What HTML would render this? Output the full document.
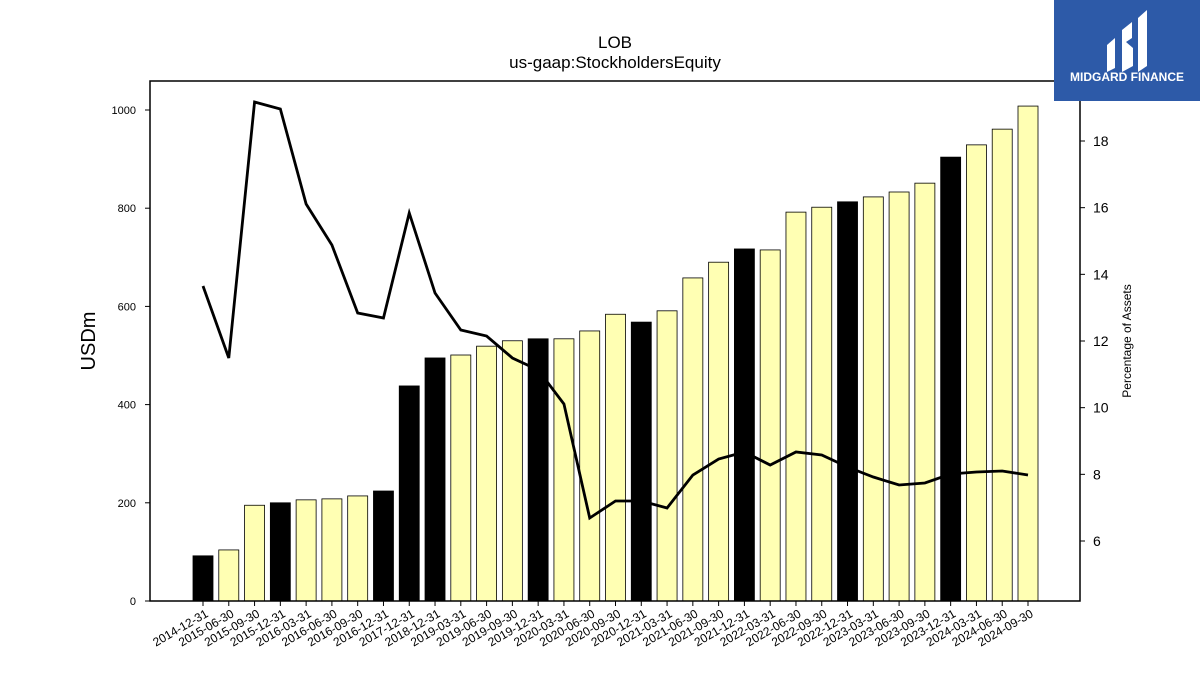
<!DOCTYPE html>
<html><head><meta charset="utf-8"><style>
body{margin:0;background:#fff;width:1200px;height:675px;overflow:hidden;font-family:"Liberation Sans",sans-serif}
</style></head><body>
<svg id="chart" width="1200" height="675" xmlns="http://www.w3.org/2000/svg" font-family="Liberation Sans, DejaVu Sans, sans-serif">
<text x="615" y="48" font-size="17" text-anchor="middle">LOB</text>
<text x="615" y="68" font-size="17" text-anchor="middle">us-gaap:StockholdersEquity</text>
<g id="bars"></g>
<g id="line"></g>
<rect x="150" y="81" width="930" height="520" fill="none" stroke="#000" stroke-width="1.5"/>
<g id="axes"></g>
<text transform="translate(95,341) rotate(-90)" font-size="20" text-anchor="middle">USDm</text>
<text transform="translate(1131,341) rotate(-90)" font-size="12" text-anchor="middle">Percentage of Assets</text>
<g>
<rect x="1054" y="0" width="146" height="101" fill="#2d5aa8"/>
<path d="M1107 45 L1115 38 L1115 68 L1107 72 Z" fill="#fff"/>
<path d="M1122 30 L1132 22 L1132 38 L1126 42 L1133 48 L1133 66 L1122 72 Z" fill="#fff"/>
<path d="M1138 18 L1147 10 L1147 66 L1138 72 Z" fill="#fff"/>
<text x="1127" y="81" font-size="12" font-weight="bold" fill="#fff" text-anchor="middle">MIDGARD FINANCE</text>
</g>
</svg>
<script>
const categories=["2014-12-31","2015-06-30","2015-09-30","2015-12-31","2016-03-31","2016-06-30","2016-09-30","2016-12-31","2017-12-31","2018-12-31","2019-03-31","2019-06-30","2019-09-30","2019-12-31","2020-03-31","2020-06-30","2020-09-30","2020-12-31","2021-03-31","2021-06-30","2021-09-30","2021-12-31","2022-03-31","2022-06-30","2022-09-30","2022-12-31","2023-03-31","2023-06-30","2023-09-30","2023-12-31","2024-03-31","2024-06-30","2024-09-30"];
const equity=[92,104,195,200,206,208,214,224,438,495,501,519,530,534,534,550,584,568,591,658,690,717,715,792,802,813,823,833,851,904,929,961,1008];
const annual=[1,0,0,1,0,0,0,1,1,1,0,0,0,1,0,0,0,1,0,0,0,1,0,0,0,1,0,0,0,1,0,0,0];
const pctAssets=[13.65,11.49,19.17,18.96,16.11,14.88,12.84,12.69,15.84,13.44,12.33,12.15,11.49,11.13,10.11,6.69,7.2,7.2,6.99,7.98,8.46,8.67,8.28,8.67,8.58,8.22,7.92,7.68,7.74,8.01,8.07,8.1,7.98];
const leftTicks=[0,200,400,600,800,1000];
const rightTicks=[6,8,10,12,14,16,18];
const NS="http://www.w3.org/2000/svg";
const x=i=>203+i*(1028-203)/(categories.length-1);
const yL=v=>601-v*0.491;
const yR=v=>541-(v-6)*(400/12);
function mk(t,a,p){const e=document.createElementNS(NS,t);for(const k in a)e.setAttribute(k,a[k]);p.appendChild(e);return e;}
const bars=document.getElementById('bars'),axes=document.getElementById('axes'),line=document.getElementById('line');
equity.forEach((v,i)=>{
 const r=mk('rect',{x:x(i)-10,y:yL(v),width:20,height:601-yL(v),fill:annual[i]?'#000':'#ffffb3',stroke:'#000','stroke-width':0.8},bars);
 
 
 mk('line',{x1:x(i),x2:x(i),y1:601,y2:606,stroke:'#000'},axes);
 const t=mk('text',{transform:`translate(${x(i)+6},${616}) rotate(-30)`,'font-size':12,'text-anchor':'end'},axes);
 t.textContent=categories[i];
 
 
});
const p=mk('polyline',{points:pctAssets.map((v,i)=>x(i)+','+yR(v)).join(' '),fill:'none',stroke:'#000','stroke-width':2.8},line);


leftTicks.forEach(v=>{
 mk('line',{x1:145,x2:150,y1:yL(v),y2:yL(v),stroke:'#000'},axes);
 const t=mk('text',{x:136,y:yL(v)+4,'font-size':11,'text-anchor':'end'},axes);t.textContent=v;
 
 
});
rightTicks.forEach(v=>{
 mk('line',{x1:1080,x2:1085,y1:yR(v),y2:yR(v),stroke:'#000'},axes);
 const t=mk('text',{x:1093,y:yR(v)+5,'font-size':14},axes);t.textContent=v;
 
 
});
</script>
</body></html>
